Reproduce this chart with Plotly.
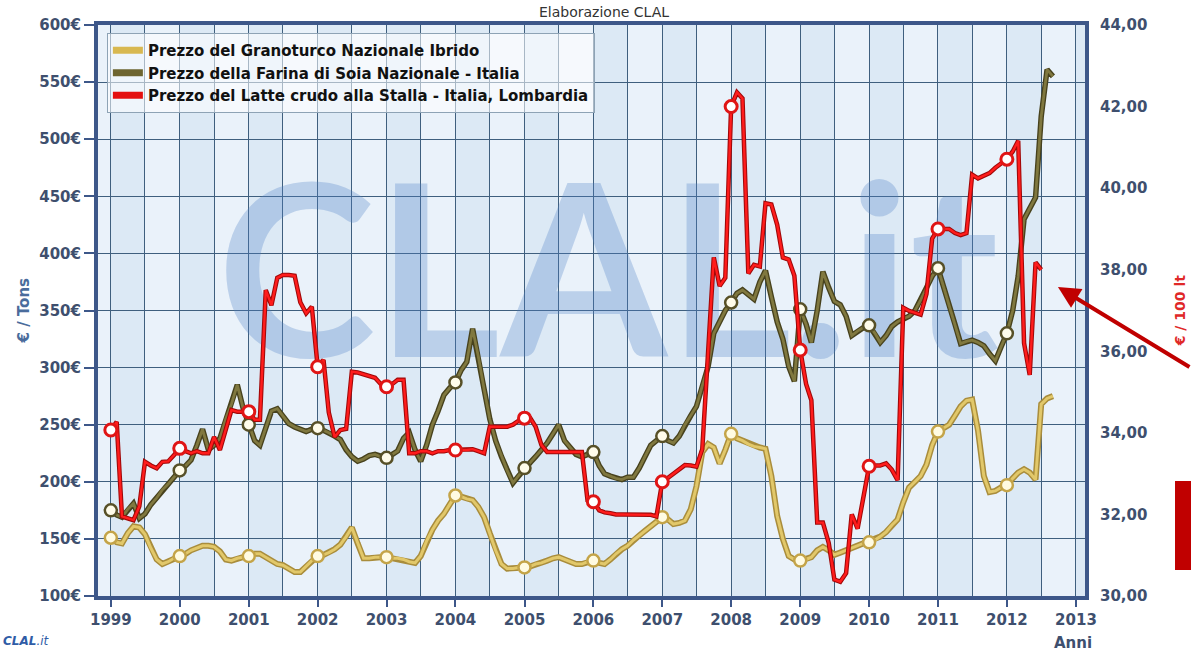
import pandas as pd
import plotly.graph_objects as go

START = "1999-01-01"

# Prezzo del Granoturco Nazionale Ibrido (EUR / t), monthly from Jan 1999
corn_prices = [
    151, 147, 146, 155, 161, 160, 154, 142, 132, 128, 130, 133,
    135, 137, 140, 142, 144, 144, 143, 139, 132, 131, 133, 134,
    135, 137, 137, 134, 131, 128, 127, 124, 121, 121, 126, 131,
    135, 136, 138, 141, 145, 152, 160, 146, 133, 133, 134, 134,
    134, 133, 133, 132, 130, 129, 135, 148, 158, 166, 172, 180,
    188, 187, 185, 184, 178, 169, 155, 140, 128, 124, 124, 125,
    125, 126, 128, 129, 131, 133, 134, 132, 130, 128, 128, 130,
    131, 129, 128, 132, 137, 141, 144, 149, 153, 157, 161, 165,
    169, 167, 163, 164, 166, 176, 196, 226, 233, 230, 216, 228,
    242, 238, 236, 233, 231, 230, 229, 205, 170, 150, 135, 132,
    131, 132, 134, 140, 143, 140, 136, 138, 140, 142, 144, 146,
    147, 149, 152, 156, 162, 167, 182, 195, 200, 205, 215, 232,
    244, 247, 250, 258, 266, 271, 272, 245, 205, 191, 192, 195,
    197, 203, 208, 211, 208, 202, 268, 273, 275,
]

# Prezzo della Farina di Soia Nazionale - Italia (EUR / t)
soy_prices = [
    175, 171, 169, 176, 181, 168, 172, 180, 186, 193, 198, 204,
    210, 214, 219, 232, 246, 228, 232, 238, 255, 268, 285, 265,
    250, 236, 232, 248, 262, 264, 258, 251, 248, 246, 244, 246,
    247, 245, 243, 240, 237, 228, 222, 218, 220, 223, 224, 222,
    221, 224, 227, 238, 243, 228, 218, 232, 250, 262, 276, 282,
    287, 298, 305, 334, 310, 281, 255, 236, 222, 210, 199, 205,
    212, 217, 222, 228, 234, 242, 250, 236, 230, 224, 222, 224,
    226, 214, 207, 205, 203, 202, 204, 204, 212, 222, 232, 236,
    240, 236, 234, 240, 250, 258, 266, 284, 301, 330, 340, 350,
    357, 365, 368, 364, 360, 375, 385, 362, 340, 325, 301, 288,
    351, 338, 322, 350, 384, 370, 358, 355, 345, 328, 332, 335,
    337, 330, 322, 328, 336, 340, 343, 345, 350, 359, 370, 380,
    387, 370, 353, 338, 321, 323, 324, 322, 319, 312, 306, 318,
    330, 350, 380, 430, 440, 449, 520, 561, 555,
]

# Prezzo del Latte crudo alla Stalla - Italia, Lombardia (EUR / 100 lt)
milk_prices = [
    34.07, 34.27, 31.95, 31.90, 31.86, 32.20, 33.29, 33.20, 33.13, 33.29, 33.30, 33.45,
    33.62, 33.55, 33.50, 33.55, 33.50, 33.50, 33.90, 33.58, 34.10, 34.56, 34.52, 34.52,
    34.52, 34.32, 34.32, 37.50, 37.13, 37.80, 37.87, 37.87, 37.85, 37.20, 36.93, 37.09,
    35.62, 35.79, 34.50, 33.90, 34.07, 34.10, 35.50, 35.48, 35.43, 35.40, 35.35, 35.20,
    35.13, 35.20, 35.30, 35.30, 33.50, 33.50, 33.55, 33.55, 33.50, 33.55, 33.55, 33.58,
    33.58, 33.58, 33.58, 33.60, 33.55, 33.50, 34.15, 34.15, 34.15, 34.15, 34.20, 34.30,
    34.36, 34.36, 34.15, 33.70, 33.53, 33.53, 33.53, 33.53, 33.53, 33.53, 33.53, 32.35,
    32.31, 32.10, 32.05, 32.03, 32.00, 32.00, 32.00, 32.00, 31.99, 31.99, 31.99, 31.95,
    32.80, 32.90, 33.00, 33.10, 33.21, 33.20, 33.17, 33.60, 35.90, 38.30, 37.60, 37.80,
    42.00, 42.35, 42.20, 37.91, 38.12, 38.08, 39.63, 39.60, 39.10, 38.30, 38.25, 37.85,
    36.03, 35.20, 34.80, 31.80, 31.80, 31.30, 30.40, 30.35, 30.56, 32.00, 31.65, 32.40,
    33.18, 33.20, 33.20, 33.25, 33.10, 32.84, 37.07, 36.99, 36.95, 36.90, 37.41, 38.76,
    39.00, 39.00, 39.00, 38.90, 38.85, 38.90, 40.33, 40.24, 40.30, 40.37, 40.50, 40.60,
    40.71, 40.90, 41.16, 36.20, 35.42, 38.18, 38.00,
]

left_ticks = [100, 150, 200, 250, 300, 350, 400, 450, 500, 550, 600]
left_tick_labels = ["100€", "150€", "200€", "250€", "300€", "350€",
                    "400€", "450€", "500€", "550€", "600€"]
right_ticks = [30, 32, 34, 36, 38, 40, 42, 44]
right_tick_labels = ["30,00", "32,00", "34,00", "36,00", "38,00", "40,00", "42,00", "44,00"]
band_years = list(range(1998, 2014))

names = [
    "Prezzo del Granoturco Nazionale Ibrido",
    "Prezzo della Farina di Soia Nazionale - Italia",
    "Prezzo del Latte crudo alla Stalla - Italia, Lombardia",
]

corn_dates = pd.date_range(START, periods=len(corn_prices), freq="MS")
soy_dates = pd.date_range(START, periods=len(soy_prices), freq="MS")
milk_dates = pd.date_range(START, periods=len(milk_prices), freq="MS")

FRAME = "#3d5789"
LABEL = "#3e4f6e"
GRID = "#3f5f7e"
FONT = "DejaVu Sans"

fig = go.Figure()

# watermark (behind the lines)
fig.add_trace(go.Scatter(
    x=["2006-03-20"], y=[362], mode="text", text=["CLAL.it"],
    textfont=dict(family="Lato", size=240, color="rgba(80,130,200,0.30)", weight="bold"),
    textposition="middle center", showlegend=False, hoverinfo="skip", cliponaxis=False))

# corn
fig.add_trace(go.Scatter(x=corn_dates, y=corn_prices, mode="lines",
                         line=dict(color="#a98d3c", width=6), showlegend=False, hoverinfo="skip"))
fig.add_trace(go.Scatter(x=corn_dates, y=corn_prices, mode="lines", name=names[0],
                         line=dict(color="#e2c86a", width=3), showlegend=False))
# soy
fig.add_trace(go.Scatter(x=soy_dates, y=soy_prices, mode="lines",
                         line=dict(color="#47421d", width=5.5), showlegend=False, hoverinfo="skip"))
fig.add_trace(go.Scatter(x=soy_dates, y=soy_prices, mode="lines", name=names[1],
                         line=dict(color="#80783f", width=2.8), showlegend=False))
# markers corn / soy
fig.add_trace(go.Scatter(x=corn_dates[::12], y=corn_prices[::12], mode="markers",
                         marker=dict(size=12, color="#fffbe2", line=dict(color="#c4a448", width=2.5)),
                         showlegend=False, hoverinfo="skip"))
fig.add_trace(go.Scatter(x=soy_dates[::12], y=soy_prices[::12], mode="markers",
                         marker=dict(size=12, color="#fffcea", line=dict(color="#575027", width=2.5)),
                         showlegend=False, hoverinfo="skip"))
# milk (right axis)
fig.add_trace(go.Scatter(x=milk_dates, y=milk_prices, mode="lines", yaxis="y2",
                         line=dict(color="#a00808", width=4.5), showlegend=False, hoverinfo="skip"))
fig.add_trace(go.Scatter(x=milk_dates, y=milk_prices, mode="lines", yaxis="y2", name=names[2],
                         line=dict(color="#ff1c1c", width=2.4), showlegend=False))
fig.add_trace(go.Scatter(x=milk_dates[::12], y=milk_prices[::12], mode="markers", yaxis="y2",
                         marker=dict(size=12, color="#ffffff", line=dict(color="#e01515", width=3)),
                         showlegend=False, hoverinfo="skip"))

# legend entries
for nm, col in zip(names, ["#d8b850", "#6e6530", "#e41010"]):
    fig.add_trace(go.Scatter(x=[None], y=[None], mode="lines", name=nm,
                             line=dict(color=col, width=7)))

# background bands (first half of each year slightly darker)
shapes = []
for yr in band_years:
    shapes.append(dict(type="rect", xref="x", yref="paper",
                       x0=f"{yr}-01-01", x1=f"{yr}-07-01", y0=0, y1=1,
                       fillcolor="rgba(150,185,225,0.16)", line=dict(width=0), layer="below"))
# red block at right edge
shapes.append(dict(type="rect", xref="paper", yref="paper",
                   x0=1.0912, x1=1.11, y0=0.0455, y1=0.2014,
                   fillcolor="#c00000", line=dict(width=0)))

annotations = [
    dict(text="Elaborazione CLAL", xref="paper", yref="paper", x=0.513, y=1.0228,
         xanchor="center", yanchor="middle",
         showarrow=False, font=dict(family=FONT, size=14, color="#333333")),
    dict(text="<b>€ / Tons</b>", xref="paper", yref="paper", x=-0.075, y=0.5, textangle=-90,
         xanchor="center", yanchor="middle",
         showarrow=False, font=dict(family=FONT, size=15, color="#4a6c9c")),
    dict(text="<b>€ / 100 lt</b>", xref="paper", yref="paper", x=1.096, y=0.5, textangle=-90,
         xanchor="center", yanchor="middle",
         showarrow=False, font=dict(family=FONT, size=14, color="#e02828")),
    dict(text="<b>Anni</b>", xref="paper", yref="paper", x=0.988, y=-0.082,
         xanchor="center", yanchor="middle",
         showarrow=False, font=dict(family=FONT, size=15, color=LABEL)),
    dict(text="<b><i>CLAL</i></b><i>.it</i>", xref="paper", yref="paper", x=-0.072, y=-0.079,
         xanchor="center", yanchor="middle",
         showarrow=False, font=dict(family=FONT, size=12, color="#2f5ca6")),
    dict(text="", xref="paper", yref="paper", x=0.9726, y=0.5412, ax=133, ay=81,
         axref="pixel", ayref="pixel", showarrow=True, arrowhead=2, arrowsize=1.1,
         arrowwidth=4, arrowcolor="#c00000", standoff=0),
]

fig.update_layout(
    width=1191, height=651,
    margin=dict(l=98, r=106, t=25, b=55, autoexpand=False),
    paper_bgcolor="#ffffff",
    plot_bgcolor="#eaf2fa",
    font=dict(family=FONT, color=LABEL),
    shapes=shapes,
    annotations=annotations,
    legend=dict(x=0.009, y=0.986, xanchor="left", yanchor="top",
                bgcolor="rgba(255,255,255,0.55)", bordercolor="#8ea3b5", borderwidth=1,
                font=dict(family=FONT, size=15, color="#111111", weight="bold"),
                tracegroupgap=0, itemwidth=30),
    xaxis=dict(type="date", range=["1998-10-25", "2013-02-18"],
               tick0="1999-01-01", dtick="M12", tickformat="%Y",
               ticks="outside", ticklen=7, tickwidth=2, tickcolor=FRAME,
               tickfont=dict(family=FONT, size=15, color=LABEL, weight="bold"),
               showgrid=True, gridcolor=GRID, gridwidth=1,
               minor=dict(dtick="M6", tick0="1999-01-01", showgrid=True, gridcolor=GRID, gridwidth=1),
               showline=True, linewidth=4, linecolor=FRAME, mirror=True, zeroline=False,
               automargin=False),
    yaxis=dict(range=[100, 600], tickvals=left_ticks, ticktext=left_tick_labels,
               ticks="outside", ticklen=10, tickwidth=2, tickcolor=FRAME,
               tickfont=dict(family=FONT, size=15, color=LABEL, weight="bold"),
               showgrid=True, gridcolor=GRID, gridwidth=1,
               showline=True, linewidth=4, linecolor=FRAME, mirror=True, zeroline=False,
               automargin=False),
    yaxis2=dict(range=[30, 44], overlaying="y", side="right",
                tickvals=right_ticks, ticktext=right_tick_labels,
                ticks="", ticklabelstandoff=14, showgrid=False, zeroline=False,
                tickfont=dict(family=FONT, size=15, color=LABEL, weight="bold"),
                automargin=False),
)

fig.write_html("out.html", config={"displayModeBar": False},
               post_script="document.body.style.margin='0px';")
